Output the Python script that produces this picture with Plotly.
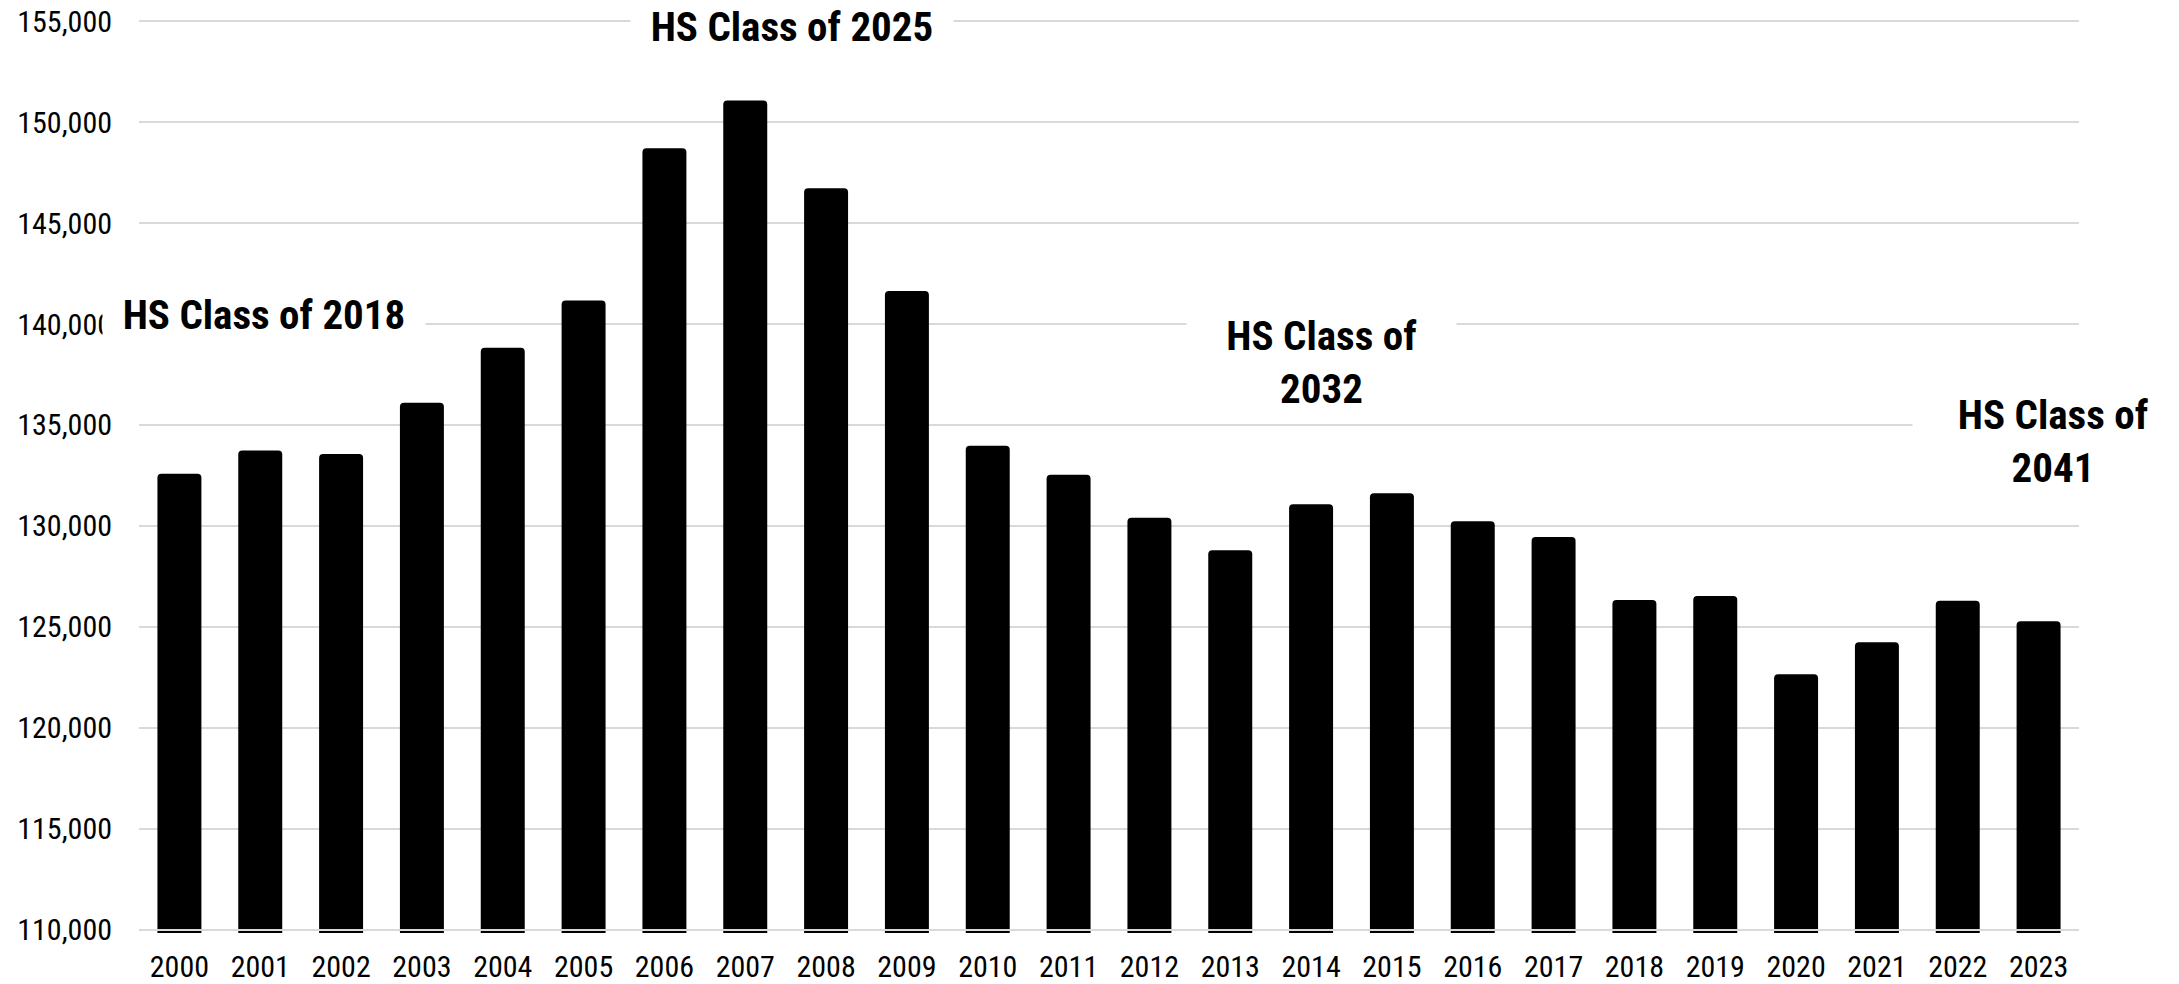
import plotly.graph_objects as go

years = [str(y) for y in range(2000, 2024)]
enrollment = [132580, 133740, 133570, 136100, 138830, 141160, 148700, 151070,
              146720, 141630, 133970, 132540, 130410, 128800, 131070, 131620,
              130230, 129450, 126340, 126530, 122660, 124240, 126300, 125280]

notes = ["HS Class of 2018", "HS Class of 2025", "HS Class of<br>2032", "HS Class of<br>2041"]
note_x = [1.042, 7.573, 14.128, 23.18]
note_y = [140450, 154720, 138100, 134160]
note_w = [318, 318, 265, 276]

FONT = "Roboto Condensed, Archivo Narrow, Liberation Sans, sans-serif"

fig = go.Figure()
fig.add_trace(go.Bar(
    x=years, y=enrollment,
    marker=dict(color="#000000", line=dict(width=0), cornerradius=4),
    showlegend=False,
))

for t, x, y, w in zip(notes, note_x, note_y, note_w):
    fig.add_annotation(
        text=f"<b>{t}</b>", x=x, y=y, xref="x", yref="y",
        showarrow=False, bgcolor="#ffffff", borderpad=2, width=w,
        align="center", xanchor="center", yanchor="middle",
        font=dict(family=FONT, size=41, color="#000000"),
    )

fig.add_shape(type="line", xref="paper", yref="y", x0=0, x1=1, y0=110000, y1=110000,
              line=dict(color="#d9d9d9", width=2), layer="above")

fig.update_layout(
    width=2179, height=984,
    margin=dict(l=139, r=100, t=20, b=51),
    paper_bgcolor="#ffffff", plot_bgcolor="#ffffff",
    bargap=0.456,
    font=dict(family=FONT, size=30, color="#000000"),
    xaxis=dict(type="category", range=[-0.5, 23.5], showgrid=False, showline=False, ticks="",
               tickfont=dict(family=FONT, size=30, color="#000000"),
               ticklabelstandoff=13, automargin=False),
    yaxis=dict(range=[109850, 155050], tick0=110000, dtick=5000, tickformat=",d",
               showgrid=True, gridcolor="#d9d9d9", gridwidth=2, zeroline=False,
               showline=False, ticks="",
               tickfont=dict(family=FONT, size=30, color="#000000"),
               ticklabelstandoff=26, automargin=False),
)

fig.write_html("out.html", config={"displayModeBar": False},
               post_script="document.body.style.margin='0px';document.body.style.overflow='hidden';")
